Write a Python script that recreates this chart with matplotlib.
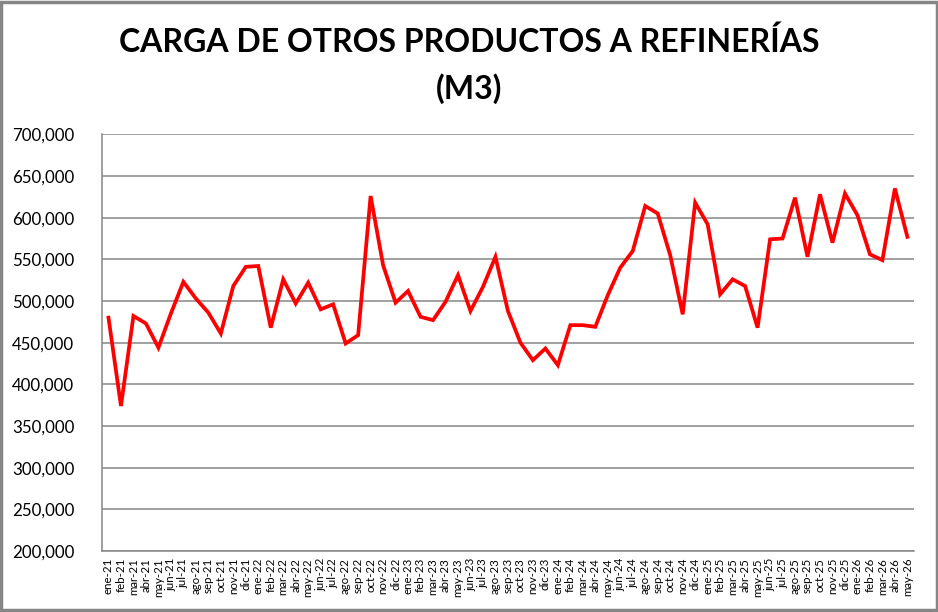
import numpy as np
import matplotlib.pyplot as plt
from matplotlib.patches import Rectangle
from matplotlib.ticker import FuncFormatter

# Monthly labels and values (m3)
meses = ["ene", "feb", "mar", "abr", "may", "jun",
         "jul", "ago", "sep", "oct", "nov", "dic"]
labels = [f"{m}-{y}" for y in range(21, 27) for m in meses][:65]

carga = [480000, 374000, 482000, 473000, 444000, 485000,
         523000, 503000, 486000, 461000, 518000, 541000,
         542000, 468000, 526000, 497000, 522000, 490000,
         496000, 449000, 459000, 626000, 543000, 498000,
         512000, 481000, 477000, 499000, 531000, 488000,
         517000, 553000, 488000, 450000, 429000, 443000,
         423000, 471000, 471000, 469000, 507000, 540000,
         560000, 614000, 605000, 555000, 484000, 618000,
         592000, 508000, 526000, 518000, 468000, 574000,
         575000, 624000, 553000, 628000, 570000, 629000,
         603000, 556000, 549000, 635000, 577000]

plt.rcParams['font.family'] = ['Lato', 'DejaVu Sans']

fig = plt.figure(figsize=(9.38, 6.12), dpi=100)
ax = fig.add_axes([0.109, 0.0997, 0.865, 0.6808])

x = np.arange(len(carga))
ax.plot(x, carga, color="#ff0000", linewidth=2.7, solid_joinstyle="miter")

ax.set_xlim(-0.5, len(carga) - 0.5)
ax.set_ylim(200000, 700000)
ax.set_yticks(np.arange(200000, 700001, 50000))
ax.yaxis.set_major_formatter(FuncFormatter(lambda v, p: f"{int(v):,}"))
ax.set_xticks(x)
ax.set_xticklabels(labels, rotation=90, fontsize=8.3)
ax.tick_params(axis="y", labelsize=12.2, length=0, pad=20)
ax.tick_params(axis="x", length=0, pad=5)

ax.grid(axis="y", color="#868686", linewidth=1.1)
ax.set_axisbelow(True)
for side in ["top", "right"]:
    ax.spines[side].set_visible(False)
for side in ["left", "bottom"]:
    ax.spines[side].set_color("#868686")
    ax.spines[side].set_linewidth(1.1)

fig.text(0.5, 0.931, "CARGA DE OTROS PRODUCTOS A REFINERÍAS",
         ha="center", va="center", fontsize=23, fontweight="bold")
fig.text(0.5, 0.856, "(M3)", ha="center", va="center",
         fontsize=23, fontweight="bold")

# grey chart border like the spreadsheet export
fig.patches.append(Rectangle((0.0015, 0.0025), 0.997, 0.995, transform=fig.transFigure,
                             fill=False, edgecolor="#868686", linewidth=2.5))

fig.savefig("out.png", dpi=100)
